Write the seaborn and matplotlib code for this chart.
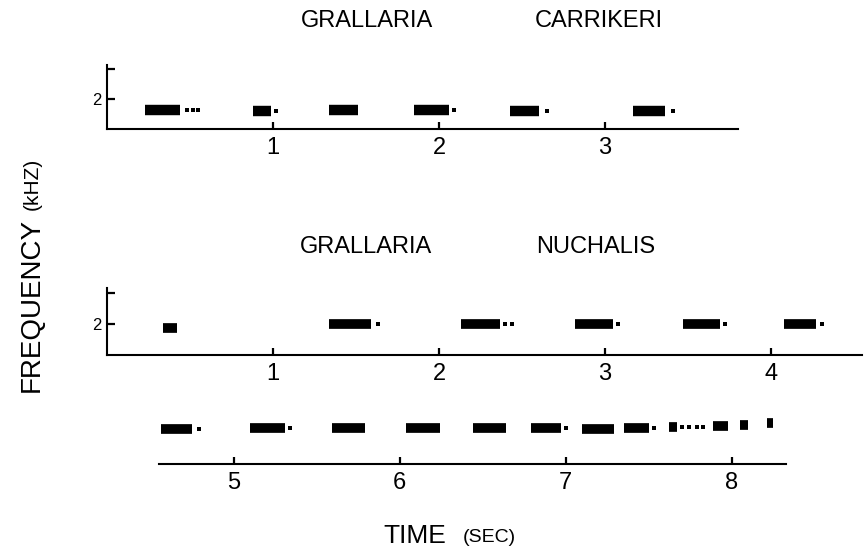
import pandas as pd
import seaborn as sns
import matplotlib.pyplot as plt

W, H = 865, 553
PPS = 166  # pixels per second on every time axis

# Grallaria carrikeri song (sec, kHz)
carr_start = [0.23, 0.88, 1.34, 1.85, 2.43, 3.17]
carr_end = [0.44, 0.99, 1.51, 2.06, 2.60, 3.36]
carr_freq = [1.62, 1.60, 1.63, 1.62, 1.60, 1.60]
carr_dots = [0.48, 0.52, 0.55, 1.02, 2.09, 2.65, 3.41]
carr_dot_freq = [1.62, 1.62, 1.62, 1.60, 1.62, 1.60, 1.60]

# Grallaria nuchalis song, first line
nuch_start = [0.34, 1.34, 2.13, 2.82, 3.47, 4.08]
nuch_end = [0.42, 1.59, 2.37, 3.05, 3.69, 4.27]
nuch_freq = [1.88, 2.00, 2.00, 2.00, 2.00, 2.00]
nuch_dots = [1.63, 2.40, 2.44, 3.08, 3.72, 4.31]
nuch_dot_freq = [2.00, 2.00, 2.00, 2.00, 2.00, 2.00]

# Grallaria nuchalis song, continued
cont_start = [4.56, 5.10, 5.59, 6.04, 6.44, 6.79, 7.10, 7.35, 7.62, 7.89, 8.05, 8.21]
cont_end = [4.75, 5.31, 5.79, 6.24, 6.64, 6.97, 7.29, 7.50, 7.67, 7.98, 8.10, 8.25]
cont_freq = [1.98, 2.00, 2.00, 2.00, 2.00, 2.00, 1.98, 2.00, 2.02, 2.06, 2.08, 2.15]
cont_dots = [4.79, 5.34, 7.00, 7.53, 7.70, 7.74, 7.79, 7.83]
cont_dot_freq = [1.98, 2.00, 2.00, 2.00, 2.02, 2.02, 2.03, 2.04]

sns.set_style("white")
plt.rcParams['font.family'] = ['Liberation Sans', 'DejaVu Sans']


def draw_notes(ax, start, end, freq, dots, dot_freq, lw=7):
    rows = []
    for i in range(len(start)):
        rows.append(dict(note=i, t=start[i], f=freq[i]))
        rows.append(dict(note=i, t=end[i], f=freq[i]))
    df = pd.DataFrame(rows)
    sns.lineplot(data=df, x='t', y='f', units='note', estimator=None,
                 sort=False, color='black', lw=lw, solid_capstyle='butt', ax=ax)
    sns.scatterplot(x=dots, y=dot_freq, marker='s', s=6, color='black',
                    linewidth=0, ax=ax)
    ax.set_xlabel('')
    ax.set_ylabel('')


def make_axes(left_px, base_px, t0, t1, f0, f1, ppk):
    ax = fig.add_axes([left_px / W, (H - base_px) / H,
                       (t1 - t0) * PPS / W, (f1 - f0) * ppk / H])
    ax.set_xlim(t0, t1)
    ax.set_ylim(f0, f1)
    for s in ['top', 'right']:
        ax.spines[s].set_visible(False)
    for s in ['left', 'bottom']:
        ax.spines[s].set_linewidth(1.5)
        ax.spines[s].set_color('black')
    ax.tick_params(axis='x', direction='in', length=5, width=1.6,
                   labelsize=17, pad=6, bottom=True, colors='black')
    ax.tick_params(axis='y', direction='in', length=6, width=1.6,
                   labelsize=12, pad=4, left=True, colors='black')
    return ax


fig = plt.figure(figsize=(W / 100, H / 100), dpi=100)

ax1 = make_axes(107, 129, 0, 3.8, 1, 3.15, 30)
draw_notes(ax1, carr_start, carr_end, carr_freq, carr_dots, carr_dot_freq, lw=7.5)
ax1.set_xticks([1, 2, 3])
ax1.set_yticks([2, 3], ['2', ''])

ax2 = make_axes(107, 355, 0, 4.55, 1, 3.15, 31)
draw_notes(ax2, nuch_start, nuch_end, nuch_freq, nuch_dots, nuch_dot_freq)
ax2.set_xticks([1, 2, 3, 4])
ax2.set_yticks([2, 3], ['2', ''])

ax3 = make_axes(159, 464, 4.55, 8.33, 1, 2.6, 36)
draw_notes(ax3, cont_start, cont_end, cont_freq, cont_dots, cont_dot_freq)
ax3.set_xticks([5, 6, 7, 8])
ax3.set_yticks([])
ax3.spines['left'].set_visible(False)


def px_text(x, y, s, ha='center', **kw):
    fig.text(x / W, 1 - y / H, s, ha=ha, va='center', color='black', **kw)


px_text(367, 21, 'GRALLARIA', fontsize=17)
px_text(599, 21, 'CARRIKERI', fontsize=17)
px_text(366, 247, 'GRALLARIA', fontsize=17)
px_text(596, 247, 'NUCHALIS', fontsize=17)

px_text(32, 305, 'FREQUENCY', fontsize=20, rotation=90)
px_text(32, 184, '(kHZ)', fontsize=15, rotation=90)
px_text(383, 536, 'TIME', ha='left', fontsize=19)
px_text(463, 538, '(SEC)', ha='left', fontsize=14)

fig.savefig('out.png', dpi=100)
